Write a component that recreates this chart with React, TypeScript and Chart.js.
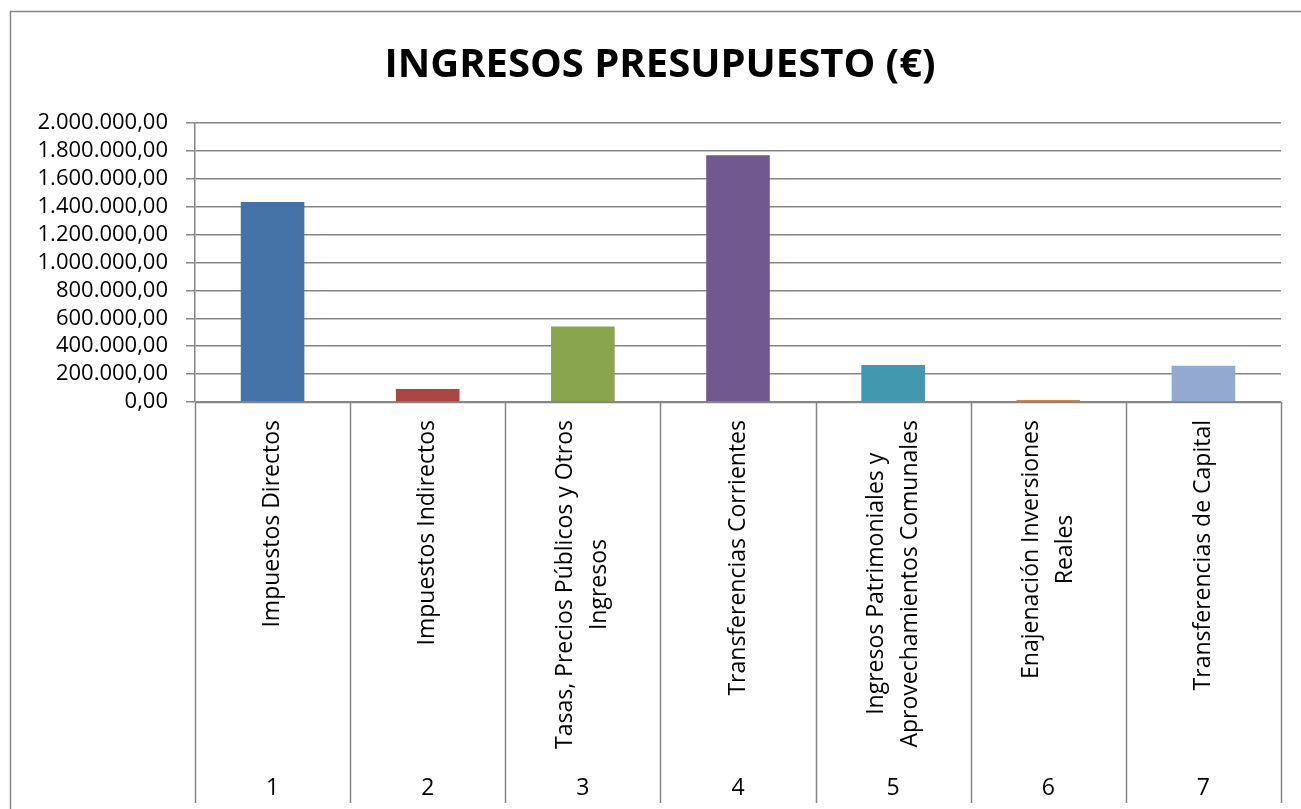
import React, { useEffect, useRef } from "react";
import { Chart, registerables } from "chart.js";

Chart.register(...registerables);

const chartTitle = "INGRESOS PRESUPUESTO (€)";
const categoryCodes = ["1", "2", "3", "4", "5", "6", "7"];
const categoryNames: string[][] = [
  ["Impuestos Directos"],
  ["Impuestos Indirectos"],
  ["Tasas, Precios Públicos y Otros", "Ingresos"],
  ["Transferencias Corrientes"],
  ["Ingresos Patrimoniales y", "Aprovechamientos Comunales"],
  ["Enajenación Inversiones", "Reales"],
  ["Transferencias de Capital"],
];
const values = [1434000, 93000, 542000, 1768000, 265000, 14000, 259000];
const barColors = ["#4572A7", "#AA4643", "#89A54E", "#71588F", "#4198AF", "#DB843D", "#93A9CF"];
const yMin = 0;
const yMax = 2000000;
const yStep = 200000;

const GRID = "#868686";
const LINE_W = 1.5;
const FONT = "'Open Sans', 'Noto Sans', sans-serif";

function formatEs(v: number): string {
  const s = Math.round(v)
    .toString()
    .replace(/\B(?=(\d{3})+(?!\d))/g, ".");
  return s + ",00";
}

const decorPlugin = {
  id: "decor",
  afterDraw(chart: any) {
    const ctx: CanvasRenderingContext2D = chart.ctx;
    const xScale = chart.scales.x;
    const area = chart.chartArea;
    ctx.save();
    // outer frame
    ctx.strokeStyle = GRID;
    ctx.lineWidth = LINE_W;
    ctx.beginPath();
    ctx.moveTo(10.5, chart.height);
    ctx.lineTo(10.5, 11.5);
    ctx.lineTo(chart.width, 11.5);
    ctx.stroke();

    // title
    ctx.fillStyle = "#000";
    ctx.font = `bold 40px ${FONT}`;
    ctx.textAlign = "center";
    ctx.textBaseline = "alphabetic";
    ctx.fillText(chartTitle, 660, 77);

    // category axis line and separators
    const n = categoryCodes.length;
    const step = (area.right - area.left) / n;
    const yb = Math.round(area.bottom) + 0.5;
    ctx.beginPath();
    ctx.moveTo(area.left, yb);
    ctx.lineTo(area.right, yb);
    for (let i = 0; i <= n; i++) {
      const xx = Math.round(area.left + i * step) + 0.5;
      ctx.moveTo(xx, area.bottom);
      ctx.lineTo(xx, 803);
    }
    ctx.stroke();

    // category labels
    ctx.fillStyle = "#000";
    ctx.font = `23px ${FONT}`;
    const labelTop = area.bottom + 18;
    for (let i = 0; i < n; i++) {
      const cx = xScale.getPixelForValue(i);
      const lines = categoryNames[i];
      let maxW = 0;
      lines.forEach((l) => {
        maxW = Math.max(maxW, ctx.measureText(l).width);
      });
      lines.forEach((line, j) => {
        ctx.save();
        ctx.translate(cx + (j - (lines.length - 1) / 2) * 34, labelTop);
        ctx.rotate(-Math.PI / 2);
        ctx.textAlign = "center";
        ctx.textBaseline = "middle";
        ctx.fillText(line, -maxW / 2, 0);
        ctx.restore();
      });
      ctx.textAlign = "center";
      ctx.textBaseline = "alphabetic";
      ctx.fillText(categoryCodes[i], cx, 795);
    }
    ctx.restore();
  },
};

export default function App() {
  const canvasRef = useRef<HTMLCanvasElement | null>(null);

  useEffect(() => {
    const canvas = canvasRef.current;
    if (!canvas) return;
    const chart = new Chart(canvas, {
      type: "bar",
      data: {
        labels: categoryCodes,
        datasets: [
          {
            data: values,
            backgroundColor: barColors,
            borderWidth: 0,
            barPercentage: 0.41,
            categoryPercentage: 1,
          },
        ],
      },
      options: {
        responsive: false,
        animation: false,
        devicePixelRatio: 1,
        layout: { padding: { left: 0, top: 123, right: 20, bottom: 407 } },
        plugins: {
          legend: { display: false },
          title: { display: false },
          tooltip: { enabled: false },
        },
        scales: {
          x: {
            grid: { display: false },
            border: { display: false },
            ticks: { display: false },
            afterFit: (scale: any) => {
              scale.height = 0;
            },
          },
          y: {
            min: yMin,
            max: yMax,
            ticks: {
              stepSize: yStep,
              autoSkip: false,
              color: "#000",
              font: { family: FONT, size: 22 },
              padding: 18,
              callback: (v: any) => formatEs(Number(v)),
            },
            grid: { color: GRID, lineWidth: LINE_W, tickLength: 9, drawTicks: true },
            border: { display: true, color: GRID, width: LINE_W },
            afterFit: (scale: any) => {
              scale.width = 195;
            },
          },
        },
      },
      plugins: [decorPlugin],
    });
    return () => chart.destroy();
  }, []);

  return (
    <div style={{ position: "absolute", left: 0, top: 0, width: 1301, height: 809, background: "#fff" }}>
      <canvas ref={canvasRef} width={1301} height={809} style={{ display: "block" }} />
    </div>
  );
}
